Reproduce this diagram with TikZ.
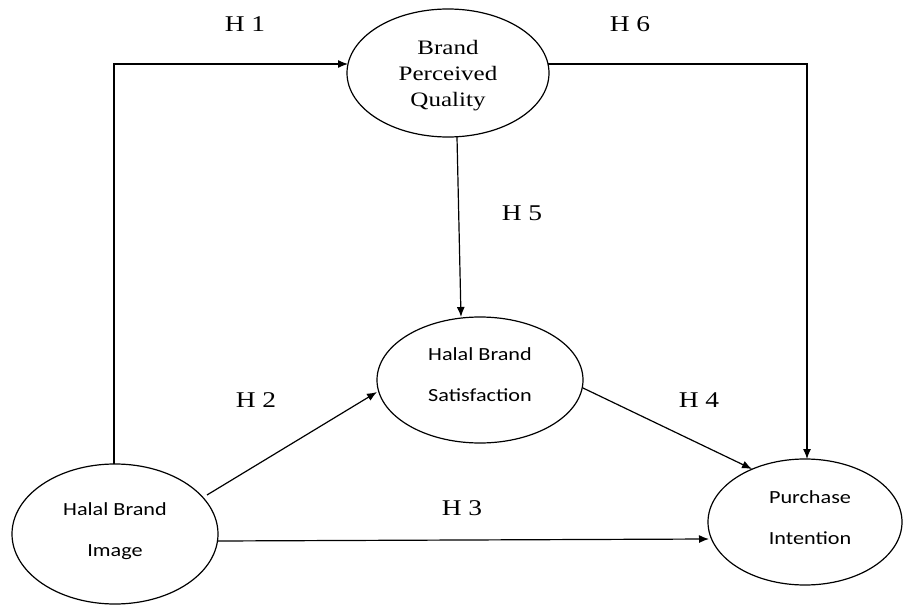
\documentclass[tikz,border=0pt]{standalone}
\usepackage{fontspec}
\usetikzlibrary{arrows.meta,shapes.geometric}
\newfontfamily\serfnt[FakeStretch=1.22]{Liberation Serif}
\newfontfamily\sanfnt[FakeStretch=1.2]{Carlito}
\begin{document}
\begin{tikzpicture}[x=1pt,y=-1pt,
  ell/.style={draw, ellipse, line width=1.2pt, inner sep=0pt},
  conn/.style={line width=1.2pt, -{Latex[length=10pt,width=8pt]}},
  hlab/.style={font=\serfnt\fontsize{22.5}{27}\selectfont, inner sep=0pt},
  sanslab/.style={font=\sanfnt\fontsize{18.5}{41}\selectfont, align=center, inner sep=0pt},
  serlab/.style={font=\serfnt\fontsize{20.5}{26}\selectfont, align=center, inner sep=0pt}]
\useasboundingbox (0,0) rectangle (903,607);
\fill[white] (0,0) rectangle (903,607);
% ellipses
\node[ell, minimum width=202pt, minimum height=128pt] (bpq) at (448,73) {};
\node[ell, minimum width=206pt, minimum height=126pt] (hbs) at (480,380) {};
\node[ell, minimum width=206pt, minimum height=140pt] (hbi) at (115,534) {};
\node[ell, minimum width=194pt, minimum height=126pt] (pi) at (805,522) {};
% texts
\node[serlab] (bpqt) at (448,76) {Brand\\Perceived\\Quality};
\node[sanslab] (hbst) at (480,375) {Halal Brand\\Satisfaction};
\node[sanslab] (hbit) at (115,531) {Halal Brand\\Image};
\node[sanslab] (pit) at (810,518) {Purchase\\Intention};
% hypothesis labels
\node[hlab] (l1) at (245,24) {H 1};
\node[hlab] (l6) at (630,24) {H 6};
\node[hlab] (l5) at (522,213) {H 5};
\node[hlab] (l2) at (256,400) {H 2};
\node[hlab] (l4) at (699,400) {H 4};
\node[hlab] (l3) at (462,508) {H 3};
% connector end points
\coordinate (h1s) at (114,464);
\coordinate (h1e) at (348,64);
\coordinate (h6s) at (548,64);
\coordinate (h6e) at (807,459);
\coordinate (h5s) at (457,137);
\coordinate (h5e) at (461,317);
\coordinate (h2s) at (207,495);
\coordinate (h2e) at (377,392);
\coordinate (h4s) at (583,388);
\coordinate (h4e) at (752,469);
\coordinate (h3s) at (218,541);
\coordinate (h3e) at (709,539);
% connectors
\draw[conn] (h1s) |- (h1e);
\draw[conn] (h6s) -| (h6e);
\draw[conn] (h5s) -- (h5e);
\draw[conn] (h2s) -- (h2e);
\draw[conn] (h4s) -- (h4e);
\draw[conn] (h3s) -- (h3e);
\end{tikzpicture}
\end{document}
